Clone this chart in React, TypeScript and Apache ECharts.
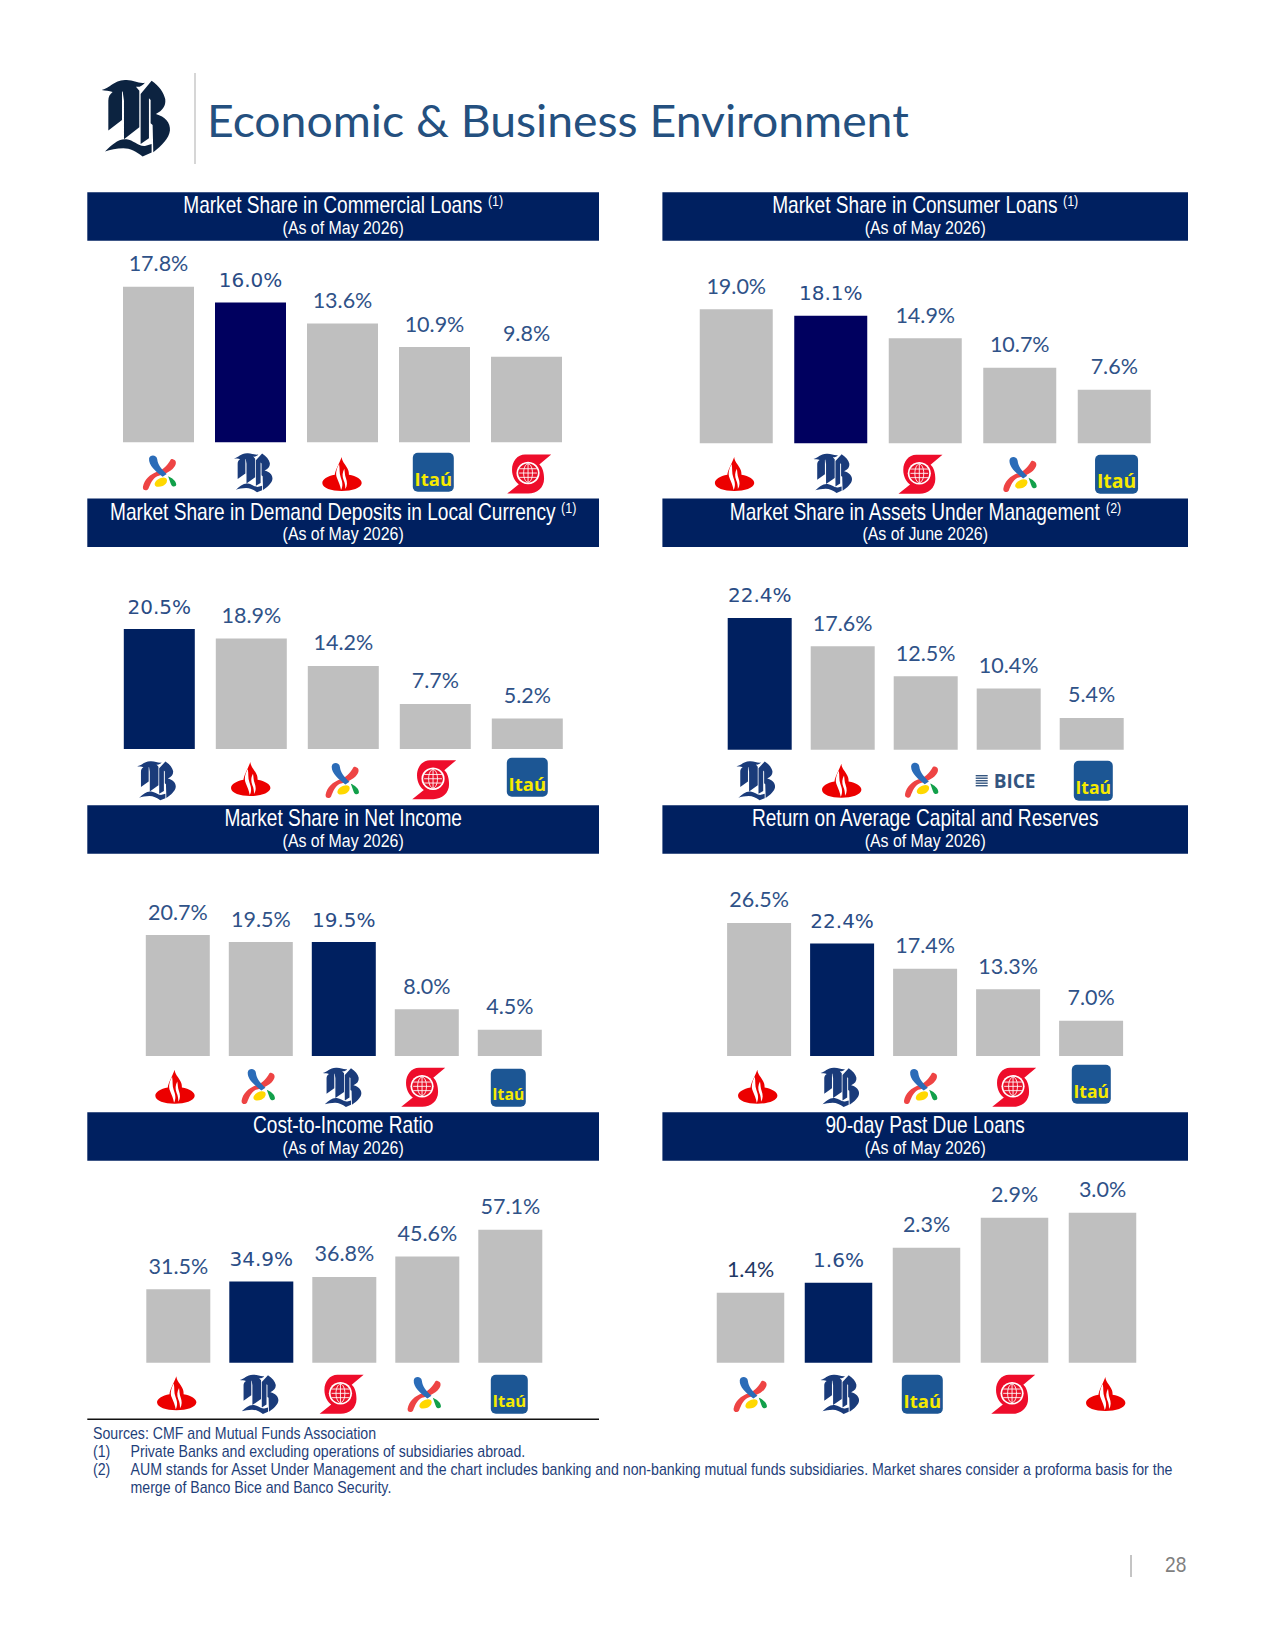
import React, { useEffect, useRef } from "react";
import * as echarts from "echarts";

const commercialBanks = ["Bci", "Banco de Chile", "Santander", "Itaú", "Scotiabank"];
const commercialShares = [17.8, 16.0, 13.6, 10.9, 9.8];
const consumerBanks = ["Santander", "Banco de Chile", "Scotiabank", "Bci", "Itaú"];
const consumerShares = [19.0, 18.1, 14.9, 10.7, 7.6];
const depositBanks = ["Banco de Chile", "Santander", "Bci", "Scotiabank", "Itaú"];
const depositShares = [20.5, 18.9, 14.2, 7.7, 5.2];
const aumBanks = ["Banco de Chile", "Santander", "Bci", "BICE", "Itaú"];
const aumShares = [22.4, 17.6, 12.5, 10.4, 5.4];
const incomeBanks = ["Santander", "Bci", "Banco de Chile", "Scotiabank", "Itaú"];
const incomeShares = [20.7, 19.5, 19.5, 8.0, 4.5];
const roacBanks = ["Santander", "Banco de Chile", "Bci", "Scotiabank", "Itaú"];
const roacValues = [26.5, 22.4, 17.4, 13.3, 7.0];
const costBanks = ["Santander", "Banco de Chile", "Scotiabank", "Bci", "Itaú"];
const costValues = [31.5, 34.9, 36.8, 45.6, 57.1];
const pastDueBanks = ["Bci", "Banco de Chile", "Itaú", "Scotiabank", "Santander"];
const pastDueValues = [1.4, 1.6, 2.3, 2.9, 3.0];

const panelTitles = [
  "Market Share in Commercial Loans", "Market Share in Consumer Loans",
  "Market Share in Demand Deposits in Local Currency", "Market Share in Assets Under Management",
  "Market Share in Net Income", "Return on Average Capital and Reserves",
  "Cost-to-Income Ratio", "90-day Past Due Loans",
];
const panelNotes = ["(1)", "(1)", "(1)", "(2)", "", "", "", ""];
const panelDates = [
  "(As of May 2026)", "(As of May 2026)", "(As of May 2026)", "(As of June 2026)",
  "(As of May 2026)", "(As of May 2026)", "(As of May 2026)", "(As of May 2026)",
];

const HOME = "Banco de Chile";
const LABEL = "#2f5288";
const HEAD = "#002060";
const NARROW = "'Liberation Sans', sans-serif";

const panels = [
  { banks: commercialBanks, values: commercialShares, left: 112.5, step: 92, base: 442.3, unit: 8.74, barW: 71, fill: "#00005f", dx: [1.1, 2.9, -0.5, -1.2, 2.8], ly: [473.3, 472.7, 474, 472.3, 474], itau: [41, 39] },
  { banks: consumerBanks, values: consumerShares, left: 689, step: 94.5, base: 443.3, unit: 7.05, barW: 73, fill: "#00005f", dx: [-1.7, 2.2, -4.7, 0.3, 2.3], ly: [474, 473.3, 474.3, 475, 474.3], itau: [43, 39] },
  { banks: depositBanks, values: depositShares, left: 113.3, step: 92, base: 749, unit: 5.85, barW: 71, fill: HEAD, dx: [-2.6, -0.6, -1, -1, 0], ly: [780.7, 779, 781, 779.7, 777.3], itau: [41, 39] },
  { banks: aumBanks, values: aumShares, left: 718.2, step: 83, base: 749.7, unit: 5.88, barW: 64, fill: HEAD, dx: [-3.7, -1, -4, -3, 1.6], ly: [780.7, 780.7, 780.7, 780.7, 780.7], itau: [39, 40] },
  { banks: incomeBanks, values: incomeShares, left: 136.3, step: 83, base: 1056, unit: 5.845, barW: 64, fill: HEAD, dx: [-2.8, -2.5, -1.5, -3.5, -1.5], ly: [1086.7, 1087, 1087.3, 1087.3, 1087.7], itau: [35, 38] },
  { banks: roacBanks, values: roacValues, left: 717.6, step: 83, base: 1056, unit: 5.02, barW: 64, fill: HEAD, dx: [-1.4, -2.1, -4.4, 6.2, 0.2], ly: [1086.7, 1087.3, 1087, 1087.3, 1084.3], itau: [39, 39] },
  { banks: costBanks, values: costValues, left: 136.8, step: 83, base: 1362.7, unit: 2.33, barW: 64, fill: HEAD, dx: [-1.6, -2, -2.6, -3, -1], ly: [1393.3, 1394.3, 1394.3, 1395, 1394.3], itau: [37, 39] },
  { banks: pastDueBanks, values: pastDueValues, left: 706.5, step: 88, base: 1362.7, unit: 50, barW: 67.5, fill: HEAD, dx: [-0.2, 1.5, -4.2, -1.2, 3.2], ly: [1395, 1394.3, 1394.3, 1394.3, 1394], itau: [41, 39], darkFirst: true },
];

const g: any = echarts.graphic;
const reg = (name: string, d: string) => g.registerShape(name, g.extendPath(d, {}));

reg("bbMark",
  "M5 60 C30 55 40 32 75 30 C100 28 115 42 135 38 C127 48 118 52 108 50 L118 62 L118 172 L72 208 L72 92 L68 64 L66 66 L66 150 L25 182 L25 92 C25 80 30 72 38 66 C28 62 15 62 5 60 Z " +
  "M122 72 L155 32 C178 48 192 68 196 88 C198 108 188 122 168 132 C195 140 212 158 210 182 C208 205 185 228 160 247 L158 165 L152 160 L152 90 L147 85 L147 205 L122 222 Z " +
  "M15 245 C35 225 55 205 80 208 C100 210 115 230 135 228 L155 222 L155 248 L128 260 C110 245 90 235 70 235 C50 235 30 240 15 245 Z");
reg("sanBody", "M98 15 C98 27 110 38 116 50 C120 58 120 62 120 68 C143 72 160 82 159 93 C157 107 130 116 98 116 C66 116 40 107 39 93 C38 82 55 72 77 68 C78 55 88 40 98 15 Z");
reg("sanCut", "M90 36 C82 50 78 65 84 78 C89 90 94 100 96 113 C103 100 100 88 95 75 C90 62 93 50 90 36 Z M106 50 C100 60 99 72 104 84 C108 92 109 100 109 110 C116 100 115 88 111 78 C107 68 108 60 106 50 Z");
reg("bciBlue", "M58 28 C60 16 80 16 82 30 C84 45 92 55 110 72 L98 80 C78 65 56 48 58 28 Z");
reg("bciRed", "M128 30 C138 32 140 42 132 52 C120 68 100 72 82 78 C68 84 62 100 56 114 C50 122 38 118 40 108 C44 88 60 72 85 64 C105 58 115 42 120 34 C122 30 125 29 128 30 Z");
reg("bciYellow", "M75 98 C78 88 98 78 108 84 C114 90 110 100 98 106 C88 110 72 110 75 98 Z");
reg("bciGreen", "M114 78 C125 82 138 92 138 102 C138 108 128 110 124 104 C120 96 118 88 114 78 Z");
reg("scoS", "M650 12 L727 12 L692 42 C702 50 706 68 706 85 C706 112 685 130 660 130 L598 130 L632 102 C622 95 612 78 612 58 C612 32 628 12 650 12 Z");

function boxed(cx: number, cy: number, w: number, h: number, box: number[], children: any[]) {
  const sx = w / box[2];
  const sy = h / box[3];
  return { type: "group", x: cx - (box[0] + box[2] / 2) * sx, y: cy - (box[1] + box[3] / 2) * sy, scaleX: sx, scaleY: sy, children };
}

function logo(bank: string, cx: number, cy: number, itau: number[]) {
  if (bank === "Banco de Chile") {
    return boxed(cx, cy, 39, 39, [5, 30, 207, 230], [{ type: "bbMark", style: { fill: "#1a3b7a" } }]);
  }
  if (bank === "Santander") {
    return boxed(cx, cy, 40, 34, [38, 15, 122, 101], [
      { type: "sanBody", style: { fill: "#ec0000" } },
      { type: "sanCut", style: { fill: "#ffffff" } },
    ]);
  }
  if (bank === "Bci") {
    return boxed(cx, cy, 34, 36, [39, 19, 100, 102], [
      { type: "bciRed", style: { fill: "#ee4444" } },
      { type: "bciBlue", style: { fill: "#2b6cb8" } },
      { type: "bciYellow", style: { fill: "#ffd800" } },
      { type: "bciGreen", style: { fill: "#12a04a" } },
    ]);
  }
  if (bank === "Scotiabank") {
    const lines = [-13, 0, 13].map((o) => ({ type: "line", shape: { x1: 659 - 26, y1: 68 + o, x2: 659 + 26, y2: 68 + o }, style: { stroke: "#fff", lineWidth: 2.6 } }));
    return boxed(cx, cy, 44, 39, [598, 12, 129, 118], [
      { type: "scoS", style: { fill: "#ee0d2b" } },
      { type: "circle", shape: { cx: 659, cy: 68, r: 34 }, style: { fill: "#fff" } },
      { type: "circle", shape: { cx: 659, cy: 68, r: 29 }, style: { fill: "#e8132b" } },
      { type: "ellipse", shape: { cx: 659, cy: 68, rx: 13, ry: 28 }, style: { fill: "none", stroke: "#fff", lineWidth: 2.6 } },
      { type: "line", shape: { x1: 659, y1: 40, x2: 659, y2: 96 }, style: { stroke: "#fff", lineWidth: 2.6 } },
      ...lines,
    ]);
  }
  if (bank === "Itaú") {
    const [w, h] = itau;
    return {
      type: "group", x: cx - w / 2, y: cy - h / 2, children: [
        { type: "rect", shape: { x: 0, y: 0, width: w, height: h, r: 5 }, style: { fill: "#1c5694" } },
        { type: "text", x: w / 2, y: h * 0.66, style: { text: "Itaú", fill: "#f6ea00", fontFamily: "'Open Sans', sans-serif", fontWeight: 700, fontSize: (w * 18.5) / 41, textAlign: "center", textVerticalAlign: "middle" } },
      ],
    };
  }
  const bars = [-5, -2.5, 0, 2.5, 5].map((o) => ({ type: "rect", shape: { x: -30, y: o - 0.7, width: 12, height: 1.4 }, style: { fill: "#34557f" } }));
  return {
    type: "group", x: cx, y: cy, children: [
      ...bars,
      { type: "text", x: -12, y: 0, style: { text: "BICE", fill: "#34557f", fontFamily: "'Open Sans', sans-serif", fontWeight: 700, fontSize: 19, textAlign: "left", textVerticalAlign: "middle" } },
    ],
  };
}

const noteLines = [
  { x: 93, y: 1433, t: "Sources: CMF and Mutual Funds Association" },
  { x: 93, y: 1451.5, t: "(1)" },
  { x: 130.5, y: 1451.5, t: "Private Banks and excluding operations of subsidiaries abroad." },
  { x: 93, y: 1469.5, t: "(2)" },
  { x: 130.5, y: 1469.5, t: "AUM stands for Asset Under Management and the chart includes banking and non-banking mutual funds subsidiaries. Market shares consider a proforma basis for the" },
  { x: 130.5, y: 1487.5, t: "merge of Banco Bice and Banco Security." },
];

function buildOption() {
  const grids: any[] = [];
  const xAxes: any[] = [];
  const yAxes: any[] = [];
  const series: any[] = [];
  const graphics: any[] = [];

  panels.forEach((p: any, i) => {
    const maxV = Math.max(...p.values);
    const h = maxV * p.unit;
    grids.push({ left: p.left, width: p.step * 5, top: p.base - h, height: h });
    xAxes.push({ type: "category", gridIndex: i, data: p.banks, show: false });
    yAxes.push({ type: "value", gridIndex: i, min: 0, max: maxV, show: false });
    series.push({
      type: "bar", xAxisIndex: i, yAxisIndex: i, barWidth: p.barW, silent: true,
      data: p.values.map((v: number, k: number) => {
        const home = p.banks[k] === HOME;
        return {
          value: v,
          itemStyle: { color: home ? p.fill : "#bfbfbf" },
          label: home
            ? { fontFamily: "'DejaVu Sans', sans-serif", fontSize: 20, color: "#2a4c85" }
            : { fontFamily: "Lato, sans-serif", fontSize: 21.5, color: p.darkFirst && k === 0 ? "#1f3864" : LABEL },
        };
      }),
      label: { show: true, position: "top", distance: 12.5, formatter: (o: any) => `${Number(o.value).toFixed(1)}%` },
    });
    series.push({
      type: "custom", xAxisIndex: i, yAxisIndex: i, silent: true, clip: false,
      data: p.banks.map((_: string, k: number) => [k, 0]),
      renderItem: (_: any, api: any) => {
        const k = api.value(0);
        const c = api.coord([k, 0]);
        return logo(p.banks[k], c[0] + p.dx[k], p.ly[k], p.itau);
      },
    });

    const right = i % 2 === 1;
    const hx = right ? 662.4 : 87.3;
    const hw = right ? 525.6 : 511.7;
    const hy = [192.3, 498.6, 805.3, 1112.3][Math.floor(i / 2)];
    graphics.push({ type: "rect", shape: { x: hx, y: hy, width: hw, height: 48.5 }, style: { fill: HEAD } });
    const note = panelNotes[i];
    graphics.push({
      type: "text", x: hx + hw / 2, y: hy + 13, scaleX: 0.83,
      style: {
        text: note ? `{t|${panelTitles[i]}}  {s|${note}}` : `{t|${panelTitles[i]}}`,
        textAlign: "center", textVerticalAlign: "middle",
        rich: {
          t: { fontFamily: NARROW, fontSize: 23, fill: "#fff", color: "#fff" },
          s: { fontFamily: NARROW, fontSize: 15, fill: "#fff", color: "#fff", verticalAlign: "top" },
        },
      },
    });
    graphics.push({
      type: "text", x: hx + hw / 2, y: hy + 35.2, scaleX: 0.86,
      style: { text: panelDates[i], fill: "#fff", fontFamily: NARROW, fontSize: 18.5, textAlign: "center", textVerticalAlign: "middle" },
    });
  });

  graphics.push({ type: "bbMark", x: 100, y: 70, scaleX: 1 / 3, scaleY: 1 / 3, style: { fill: "#0c2340" } });
  graphics.push({ type: "line", shape: { x1: 195, y1: 73, x2: 195, y2: 164 }, style: { stroke: "#c9c9c9", lineWidth: 1.5 } });
  graphics.push({
    type: "text", x: 207, y: 119.5, scaleX: 1.03,
    style: { text: "Economic & Business Environment", fill: "#24507f", fontFamily: "Lato, sans-serif", fontSize: 45, textAlign: "left", textVerticalAlign: "middle" },
  });
  graphics.push({ type: "line", shape: { x1: 87.3, y1: 1419.3, x2: 599, y2: 1419.3 }, style: { stroke: "#111", lineWidth: 1.5 } });
  noteLines.forEach((n) => {
    graphics.push({ type: "text", x: n.x, y: n.y, scaleX: 0.885, style: { text: n.t, fill: "#1f3f7a", fontFamily: NARROW, fontSize: 16, textAlign: "left", textVerticalAlign: "middle" } });
  });
  graphics.push({ type: "line", shape: { x1: 1131, y1: 1555, x2: 1131, y2: 1577 }, style: { stroke: "#8a8a8a", lineWidth: 1 } });
  graphics.push({ type: "text", x: 1165, y: 1564, scaleX: 0.87, style: { text: "28", fill: "#7f7f7f", fontFamily: NARROW, fontSize: 22, textAlign: "left", textVerticalAlign: "middle" } });

  return { animation: false, backgroundColor: "#fff", grid: grids, xAxis: xAxes, yAxis: yAxes, series, graphic: graphics };
}

export default function App() {
  const ref = useRef<HTMLDivElement>(null);
  useEffect(() => {
    const chart = echarts.init(ref.current as HTMLDivElement, undefined, { renderer: "svg" });
    chart.setOption(buildOption() as any);
    return () => chart.dispose();
  }, []);
  return <div ref={ref} style={{ position: "absolute", left: 0, top: 0, width: 1275, height: 1650 }} />;
}
